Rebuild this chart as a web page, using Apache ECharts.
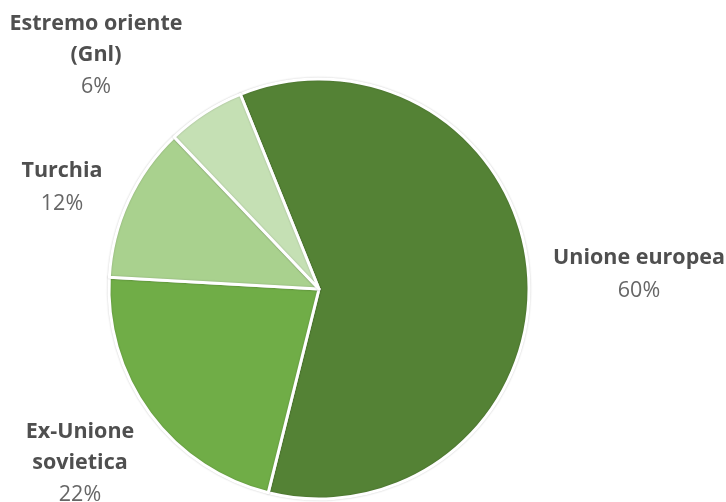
<!DOCTYPE html>
<html>
<head>
<meta charset="utf-8">
<script src="https://cdn.jsdelivr.net/npm/echarts@6/dist/echarts.min.js"></script>
<style>
  html, body { margin: 0; padding: 0; background: #ffffff; }
  #chart { width: 726px; height: 502px; }
</style>
</head>
<body>
<div id="chart"></div>
<script>
// Gas export destinations (share of total)
var categories = ['Unione europea', 'Ex-Unione\nsovietica', 'Turchia', 'Estremo oriente\n(Gnl)'];
var shares = [60, 22, 12, 6];
var sliceColors = ['#548235', '#70ad47', '#a9d18e', '#c5e0b4'];

// Label anchor points (centre of each text block) in pixels
var labelAnchors = [
  { x: 639, y: 275 },
  { x: 80, y: 464 },
  { x: 62, y: 188 },
  { x: 96, y: 56 }
];

var chart = echarts.init(document.getElementById('chart'), null, { renderer: 'canvas' });

var data = categories.map(function (name, i) {
  return { name: name, value: shares[i], itemStyle: { color: sliceColors[i] } };
});

chart.setOption({
  animation: false,
  backgroundColor: '#ffffff',
  series: [{
    type: 'pie',
    center: [319, 289],
    radius: [0, 210],
    startAngle: 112,
    clockwise: true,
    data: data,
    itemStyle: {
      borderColor: '#ffffff',
      borderWidth: 3,
      shadowBlur: 2,
      shadowColor: 'rgba(0,0,0,0.2)'
    },
    label: {
      show: true,
      position: 'outside',
      overflow: 'none',
      formatter: function (p) {
        var lines = p.name.split('\n').map(function (s) { return '{n|' + s + '}'; });
        return lines.join('\n') + '\n{p|' + p.value + '%}';
      },
      align: 'center',
      rich: {
        n: { fontFamily: 'Open Sans', fontWeight: 'bold', fontSize: 21.5, color: '#4f4f4f', lineHeight: 31, align: 'center' },
        p: { fontFamily: 'Open Sans', fontSize: 21.5, color: '#666666', lineHeight: 34, align: 'center' }
      }
    },
    labelLine: { show: false },
    labelLayout: function (params) {
      var a = labelAnchors[params.dataIndex];
      return {
        x: a.x,
        y: a.y,
        width: 300,
        align: 'center',
        verticalAlign: 'middle'
      };
    }
  }]
});
</script>
</body>
</html>
